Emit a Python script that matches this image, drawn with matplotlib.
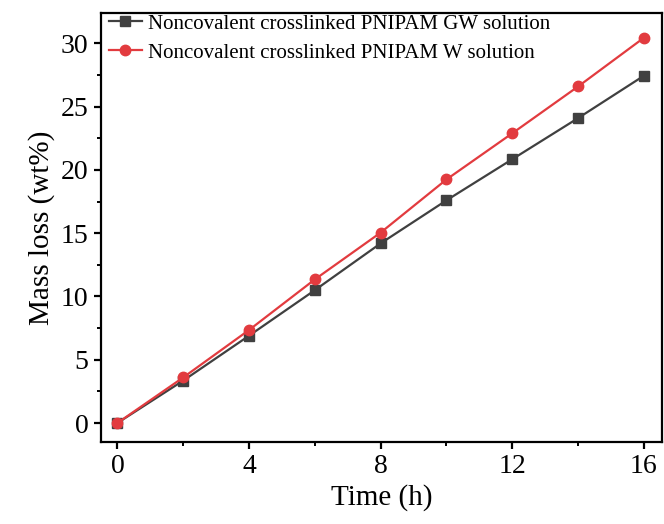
import numpy as np
import matplotlib
matplotlib.use("Agg")
import matplotlib.pyplot as plt
from matplotlib.ticker import MultipleLocator

# Mass loss over time for the two solutions
time_h = [0, 2, 4, 6, 8, 10, 12, 14, 16]
mass_loss_gw = [0, 3.35, 6.9, 10.5, 14.2, 17.6, 20.85, 24.1, 27.45]
mass_loss_w = [0, 3.6, 7.35, 11.35, 15.05, 19.25, 22.9, 26.6, 30.45]
label_gw = "Noncovalent crosslinked PNIPAM GW solution"
label_w = "Noncovalent crosslinked PNIPAM W solution"

plt.rcParams['font.family'] = ['Liberation Serif', 'DejaVu Serif']

fig = plt.figure(figsize=(6.64, 5.24), dpi=100)
ax = fig.add_axes([0.152, 0.1565, 0.845, 0.8185])

ax.plot(time_h, mass_loss_gw, color='#404040', marker='s', markersize=7,
        linewidth=1.6, label=label_gw)
ax.plot(time_h, mass_loss_w, color='#e23b3f', marker='o', markersize=7.5,
        linewidth=1.6, label=label_w)

ax.set_xlim(-0.5, 16.55)
ax.set_ylim(-1.5, 32.4)
ax.xaxis.set_major_locator(MultipleLocator(4))
ax.xaxis.set_minor_locator(MultipleLocator(2))
ax.yaxis.set_major_locator(MultipleLocator(5))
ax.yaxis.set_minor_locator(MultipleLocator(2.5))

for side in ax.spines.values():
    side.set_linewidth(1.6)
ax.tick_params(which='major', direction='out', length=5, width=1.6,
               labelsize=20, pad=4)
ax.tick_params(which='minor', direction='out', length=3, width=1.4)

ax.set_xlabel("Time (h)", fontsize=21, labelpad=3)
ax.set_ylabel("Mass loss (wt%)", fontsize=21, labelpad=4)

ax.legend(loc='upper left', frameon=False, fontsize=15, handlelength=1.6,
          handletextpad=0.3, borderaxespad=0.0, labelspacing=0.45,
          borderpad=0.05, bbox_to_anchor=(0.012, 1.0))

fig.savefig("out.png", dpi=100)
